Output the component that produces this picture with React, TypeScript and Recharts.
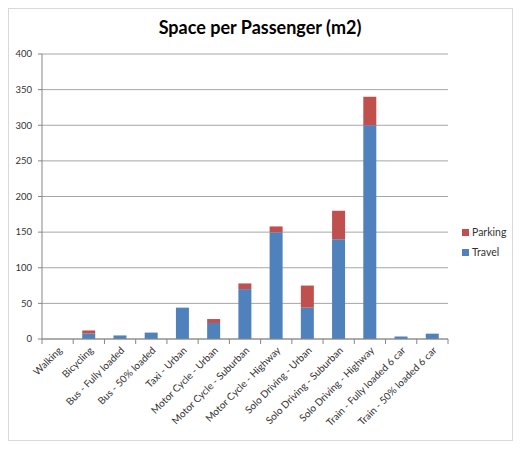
import { BarChart, Bar, XAxis, YAxis, CartesianGrid, Legend } from 'recharts';

const categories = [
  'Walking',
  'Bicycling',
  'Bus - Fully loaded',
  'Bus - 50% loaded',
  'Taxi - Urban',
  'Motor Cycle - Urban',
  'Motor Cycle - Suburban',
  'Motor Cycle - Highway',
  'Solo Driving - Urban',
  'Solo Driving - Suburban',
  'Solo Driving - Highway',
  'Train - Fully loaded 6 car',
  'Train - 50% loaded 6 car',
];
const travel = [0, 8, 5, 9, 44, 22.5, 70, 150, 44, 140, 300, 3.5, 7.5];
const parking = [0, 4, 0, 0, 0, 5.5, 8, 8, 31, 40, 40, 0, 0];
const yTicks = [0, 50, 100, 150, 200, 250, 300, 350, 400];

const data = categories.map((name, i) => ({
  name,
  Travel: travel[i],
  Parking: parking[i],
}));

const FONT = 'Lato, "Open Sans", sans-serif';
const AXIS = '#868686';

// category label plus the Excel-style tick marks on the band edges
function CatTick({ x, y, payload, index }: any) {
  const half = payload.offset || 0;
  const ax = x + 5;
  const ay = y + 12;
  const last = index === categories.length - 1;
  return (
    <g>
      <line x1={x - half} x2={x - half} y1={y} y2={y + 5} stroke={AXIS} />
      {last && <line x1={x + half} x2={x + half} y1={y} y2={y + 5} stroke={AXIS} />}
      <text
        x={ax}
        y={ay}
        textAnchor="end"
        fontSize={10}
        fontFamily={FONT}
        fill="#333"
        transform={`rotate(-45, ${ax}, ${ay})`}
      >
        {payload.value}
      </text>
    </g>
  );
}

function LegendBox({ payload }: any) {
  const items = payload || [];
  return (
    <div style={{ fontFamily: FONT, fontSize: 10.5, color: '#333' }}>
      {items.map((p: any) => (
        <div key={p.value} style={{ display: 'flex', alignItems: 'center', height: 20 }}>
          <span style={{ width: 7, height: 7, background: p.color, marginRight: 3 }} />
          {p.value}
        </div>
      ))}
    </div>
  );
}

export default function App() {
  return (
    <div style={{ position: 'absolute', left: 0, top: 0, width: 529, height: 452, background: '#fff' }}>
      <div
        style={{
          position: 'absolute',
          left: 8,
          top: 8,
          width: 503,
          height: 431,
          border: '1px solid #d9d9d9',
        }}
      />
      <div
        style={{
          position: 'absolute',
          left: 0,
          top: 16,
          width: 520,
          textAlign: 'center',
          fontFamily: FONT,
          fontWeight: 700,
          fontSize: 18,
          color: '#000',
        }}
      >
        Space per Passenger (m2)
      </div>
      <div style={{ position: 'absolute', left: 0, top: 0 }}>
        <BarChart
          width={529}
          height={452}
          data={data}
          margin={{ top: 54, right: 81, left: 0, bottom: 0 }}
          barSize={13}
        >
          <CartesianGrid vertical={false} stroke="#a6a6a6" />
          <XAxis
            dataKey="name"
            interval={0}
            tickLine={false}
            tickSize={0}
            tickMargin={0}
            axisLine={{ stroke: AXIS }}
            tick={<CatTick />}
            height={113}
          />
          <YAxis
            width={42}
            domain={[0, 400]}
            ticks={yTicks}
            tickSize={4}
            tickMargin={6}
            tickLine={{ stroke: AXIS }}
            axisLine={{ stroke: AXIS }}
            tick={{ fontSize: 9.5, fontFamily: FONT, fill: '#333' }}
          />
          <Legend
            layout="horizontal"
            verticalAlign="middle"
            align="center"
            wrapperStyle={{ left: 462, top: 222, width: 60 }}
            content={<LegendBox />}
          />
          <Bar dataKey="Travel" stackId="a" fill="#4F81BD" isAnimationActive={false} />
          <Bar dataKey="Parking" stackId="a" fill="#C0504D" isAnimationActive={false} />
        </BarChart>
      </div>
    </div>
  );
}
